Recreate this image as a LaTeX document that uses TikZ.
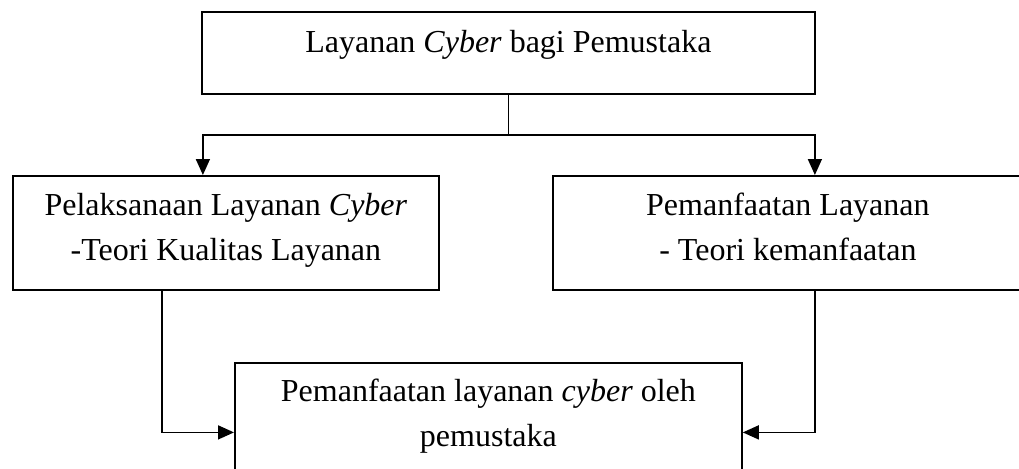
\documentclass[tikz,border=0pt]{standalone}
\usepackage{fontspec}
\setmainfont{Liberation Serif}
\usepackage{tikz}
\usetikzlibrary{shapes,arrows,positioning,arrows.meta}
\usepackage{xcolor}

\begin{document}
\begin{tikzpicture}[x=0.5pt,y=-0.5pt]
    \tikzstyle{block} = [rectangle, draw, line width=0.9pt, inner sep=0pt,
               align=center,
               font=\fontsize{16}{22.5}\selectfont]
    \tikzstyle{line} = [draw, line width=0.8pt, -{Triangle[length=8pt,width=7pt]}]

    \useasboundingbox (0,0) rectangle (1019,468);

    % Boxes
    \node [block, anchor=north west, minimum width=306.5pt,
           text height=20.5pt, text depth=20.5pt] (puncak) at (201,11)
      {Layanan \textit{Cyber} bagi Pemustaka};

    \node [block, anchor=north west, minimum width=213pt,
           text height=42.5pt, text depth=14.5pt] (pelaksanaan) at (12,175)
      {Pelaksanaan Layanan \textit{Cyber}\\-Teori Kualitas Layanan};

    \node [block, anchor=north west, minimum width=235pt,
           text height=42.5pt, text depth=14.5pt] (pemanfaatan) at (552,175)
      {Pemanfaatan Layanan\\- Teori kemanfaatan};

    \node [block, anchor=north west, minimum width=253.5pt,
           text height=42pt, text depth=27.5pt] (akhir) at (234,362)
      {Pemanfaatan layanan \textit{cyber} oleh\\pemustaka};

    % Connectors
    \draw [line width=0.8pt] (puncak.south) -- ++(0,40) coordinate (cabang);
    \draw [line] (cabang) -| ([xshift=-11.5pt]pelaksanaan.north);
    \draw [line] (cabang) -| ([xshift=13.5pt]pemanfaatan.north);

    \draw [line] ([xshift=-32pt]pelaksanaan.south) |- (akhir);
    \draw [line] ([xshift=13.5pt]pemanfaatan.south) |- (akhir);
\end{tikzpicture}
\end{document}
